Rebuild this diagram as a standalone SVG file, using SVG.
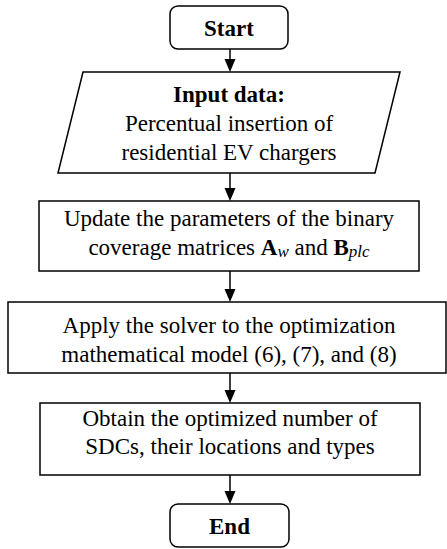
<svg xmlns="http://www.w3.org/2000/svg" width="447" height="549" viewBox="0 0 447 549">
<style>
.box{fill:#fff;stroke:#000;stroke-width:1.5}
.t{font-family:"Liberation Serif","Times New Roman",serif;font-size:23px;fill:#000;text-anchor:middle}
.b{font-weight:bold}
.sub{font-style:italic;font-size:17px}
.c{stroke:#000;stroke-width:1.5;fill:none}
</style>
<rect width="447" height="549" fill="#fff"/>
<g id="connectors">
<path class="c" d="M230,49 V60"/><path d="M224.5,59 L235.5,59 L230,72 Z"/>
<path class="c" d="M230,173 V188"/><path d="M224.5,188 L235.5,188 L230,201 Z"/>
<path class="c" d="M230,271 V289"/><path d="M224.5,289 L235.5,289 L230,302 Z"/>
<path class="c" d="M230,373 V390"/><path d="M224.5,390 L235.5,390 L230,403 Z"/>
<path class="c" d="M230,475 V491"/><path d="M224.5,491 L235.5,491 L230,504 Z"/>
</g>
<g id="start">
<rect class="box" x="170" y="6" width="118" height="43" rx="8"/>
<text class="t b" x="229" y="36">Start</text>
</g>
<g id="input">
<polygon class="box" points="83,72 400,72 375,173 58,173"/>
<text class="t b" x="229" y="102">Input data:</text>
<text class="t" x="229" y="131">Percentual insertion of</text>
<text class="t" x="229" y="160">residential EV chargers</text>
</g>
<g id="update">
<rect class="box" x="39" y="201" width="380" height="70"/>
<text class="t" x="229" y="226">Update the parameters of the binary</text>
<text class="t" x="229" y="255">coverage matrices <tspan class="b">A</tspan><tspan class="sub" dy="2">w</tspan><tspan dy="-2"> and </tspan><tspan class="b">B</tspan><tspan class="sub" dy="2">plc</tspan></text>
</g>
<g id="apply">
<rect class="box" x="8" y="302" width="438" height="71"/>
<text class="t" x="229" y="333">Apply the solver to the optimization</text>
<text class="t" x="229" y="362">mathematical model (6), (7), and (8)</text>
</g>
<g id="obtain">
<rect class="box" x="40" y="403" width="380" height="72"/>
<text class="t" x="230" y="426">Obtain the optimized number of</text>
<text class="t" x="230" y="454">SDCs, their locations and types</text>
</g>
<g id="end">
<rect class="box" x="170" y="504" width="119" height="43" rx="8"/>
<text class="t b" x="229.5" y="534">End</text>
</g>
</svg>
